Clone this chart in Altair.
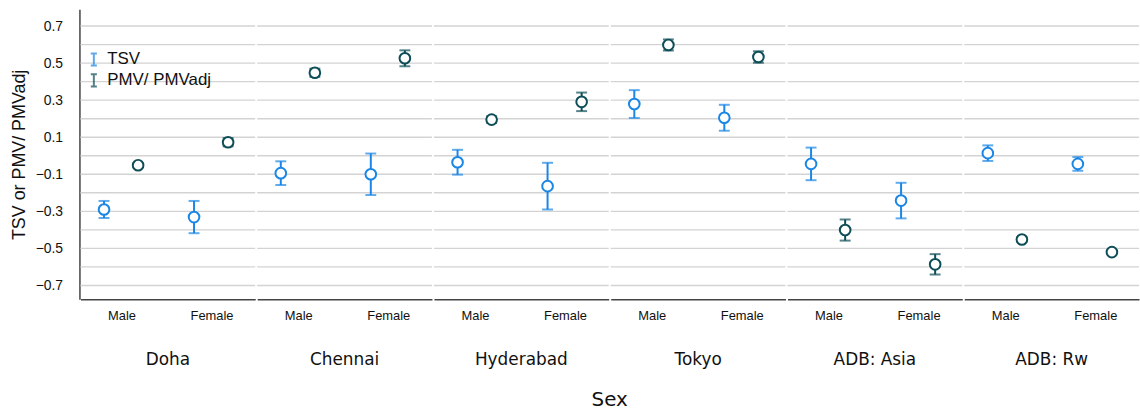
import altair as alt
import pandas as pd

cities = ["Doha", "Chennai", "Hyderabad", "Tokyo", "ADB: Asia", "ADB: Rw"]
sexes = ["Male", "Female"]
series = ["TSV", "PMV/ PMVadj"]

# means per city: [Male, Female]
tsv_mean = [[-0.29, -0.331], [-0.094, -0.10], [-0.035, -0.164], [0.279, 0.205], [-0.044, -0.242], [0.014, -0.044]]
tsv_err = [[0.046, 0.087], [0.064, 0.112], [0.067, 0.126], [0.075, 0.07], [0.088, 0.096], [0.042, 0.037]]
pmv_mean = [[-0.051, 0.073], [0.448, 0.526], [0.195, 0.291], [0.598, 0.533], [-0.401, -0.586], [-0.452, -0.52]]
pmv_err = [[0.01, 0.022], [0.022, 0.043], [0.018, 0.05], [0.03, 0.031], [0.057, 0.055], [0.012, 0.01]]

sex_pos = {"Male": 0.47, "Female": 1.5}
series_shift = {"TSV": -0.2, "PMV/ PMVadj": 0.19}

rows = []
for ci, c in enumerate(cities):
    for si, s in enumerate(sexes):
        for name, m, e in ((series[0], tsv_mean, tsv_err), (series[1], pmv_mean, pmv_err)):
            rows.append({"city": c, "sex": s, "series": name,
                         "pos": sex_pos[s] + series_shift[name],
                         "mean": m[ci][si], "lo": m[ci][si] - e[ci][si], "hi": m[ci][si] + e[ci][si]})
df = pd.DataFrame(rows)

colors = ["#1a86e6", "#0d4d57"]
color = alt.Color("series:N", scale=alt.Scale(domain=series, range=colors),
                  legend=alt.Legend(title=None, orient="none", legendX=5, legendY=42,
                                    symbolType="M-0.5,-1H0.5M0,-1V1M-0.5,1H0.5",
                                    symbolStrokeWidth=2, symbolSize=150, symbolFillColor="transparent",
                                    labelFont="Liberation Sans", labelFontSize=17, labelColor="#111",
                                    rowPadding=0, symbolOffset=0, labelOffset=5))

x = alt.X("pos:Q", title=None,
          scale=alt.Scale(domain=[0, 2], nice=False, zero=False),
          axis=alt.Axis(values=[0.47, 1.5], labelExpr="datum.value < 1 ? 'Male' : 'Female'",
                        ticks=False, labelAngle=0, labelFont="Liberation Sans", labelFontSize=13,
                        labelColor="#111", labelPadding=10, domainColor="#444", domainWidth=1.5,
                        grid=False, labelFlush=False))
yscale = alt.Scale(domain=[-0.775, 0.79], nice=False, zero=False)
y = alt.Y("mean:Q", title="TSV or PMV/ PMVadj", scale=yscale,
          axis=alt.Axis(values=[-0.7, -0.5, -0.3, -0.1, 0.1, 0.3, 0.5, 0.7], format=".1f",
                        ticks=False, labelFont="Liberation Sans", labelFontSize=14, labelColor="#111",
                        labelPadding=17, titleFont="Liberation Sans", titleFontSize=18,
                        titleFontWeight="normal", titleColor="#111", titlePadding=7,
                        domainColor="#444", domainWidth=1.5,
                        grid=False))

grid_values = [-0.7, -0.6, -0.5, -0.4, -0.3, -0.2, -0.1, 0.0, 0.1, 0.2, 0.3, 0.4, 0.5, 0.6, 0.7]

base = alt.Chart()
grid = base.mark_rule(color="#d3d3d3", strokeWidth=1.4).encode(
    y=alt.Y("g:Q", scale=yscale)
).transform_aggregate(n="count()").transform_calculate(
    g=str(grid_values)
).transform_flatten(["g"])

rules = base.mark_rule(strokeWidth=2).encode(x=x, y=alt.Y("lo:Q"), y2="hi:Q", color=color)
cap_lo = base.mark_tick(thickness=2, size=11, orient="horizontal").encode(x=x, y=alt.Y("lo:Q"), color=color)
cap_hi = base.mark_tick(thickness=2, size=11, orient="horizontal").encode(x=x, y=alt.Y("hi:Q"), color=color)
pts = base.mark_point(shape="circle", filled=True, fill="white", size=115, strokeWidth=2, opacity=1).encode(
    x=x, y=y, stroke=alt.Stroke("series:N", scale=alt.Scale(domain=series, range=colors), legend=None))

layer = alt.layer(grid, rules, cap_lo, cap_hi, pts, data=df).properties(width=176, height=292)

chart = layer.facet(
    column=alt.Column("city:N", sort=cities, title="Sex",
                      header=alt.Header(labelOrient="bottom", titleOrient="bottom",
                                        labelFont="DejaVu Sans", labelFontSize=17, labelColor="#111",
                                        labelPadding=30, titleFont="DejaVu Sans", titleFontSize=20,
                                        titleFontWeight="normal", titleColor="#111", titlePadding=12))
).properties(spacing=0, padding={"left": 10, "top": 8, "right": 0, "bottom": 0}
).configure_view(stroke=None).configure_facet(spacing=0)

chart.save("out.html", embed_options={"renderer": "svg", "actions": False})
